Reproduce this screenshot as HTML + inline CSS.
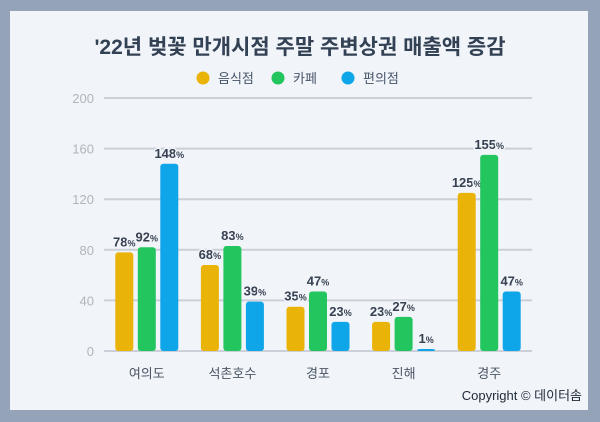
<!DOCTYPE html>
<html><head><meta charset="utf-8"><style>
body{margin:0;width:600px;height:422px;background:#94a3b8;overflow:hidden;font-family:"Liberation Sans","Noto Sans CJK KR",sans-serif}
#panel{position:absolute;left:10px;top:11px;width:578px;height:399px;background:#f1f4f9}
svg{position:absolute;left:0;top:0}
</style></head><body>
<div id="panel"></div>
<svg id="chart" width="600" height="422">
<text x="300" y="54" text-anchor="middle" font-size="21" font-weight="bold" fill="#334155">'22년 벚꽃 만개시점 주말 주변상권 매출액 증감</text>
<g id="legend"></g>
<g id="grid"></g><g id="bars"></g>
<text x="582" y="400" text-anchor="end" font-size="13" fill="#1f2937">Copyright © 데이터솜</text>
</svg>
<script>
const categories=["여의도","석촌호수","경포","진해","경주"];
const seriesNames=["음식점","카페","편의점"];
const food=[78,68,35,23,125];
const cafe=[82,83,47,27,155];
const conv=[148,39,23,1,47];
const cafeLabels=["92","83","47","27","155"];
const ticks=[0,40,80,120,160,200];
const colors=["#eab308","#22c55e","#0ea5e9"];
const ns="http://www.w3.org/2000/svg";
const x0=104,x1=532,y0=351,y1=98,yMax=200;
const y=v=>y0-(v/yMax)*(y0-y1);
const band=(x1-x0)/categories.length;
const xc=i=>x0+band*(i+0.5);
function mk(t,a,p){const e=document.createElementNS(ns,t);for(const k in a)e.setAttribute(k,a[k]);p.appendChild(e);return e;}
const grid=document.getElementById('grid'),bars=document.getElementById('bars'),leg=document.getElementById('legend');
ticks.forEach(t=>{
 const l=mk('line',{x1:x0,x2:x1,y1:y(t),y2:y(t),stroke:'#cbd0d8','stroke-width':2},grid);
 
 
 const tx=mk('text',{x:94,y:y(t)+5,'text-anchor':'end','font-size':13,fill:'#b0b5bd'},grid);
 tx.textContent=t;
 
 
});
const lx=[203,278,348];
seriesNames.forEach((n,i)=>{
 const c=mk('circle',{cx:lx[i],cy:78,r:6.5,fill:colors[i]},leg);
 
 
 const t=mk('text',{x:lx[i]+15,y:83,'font-size':13,fill:'#475569'},leg);
 t.textContent=n;
 
 
});
const series=[food,cafe,conv];
const bw=18,gap=4.5;
categories.forEach((c,i)=>{
 series.forEach((s,j)=>{
  const bx=xc(i)+(j-1)*(bw+gap)-bw/2;
  const h=Math.max(y0-y(s[i]),2);
  const r=mk('rect',{x:bx,y:y0-h,width:bw,height:h,rx:3,fill:colors[j]},bars);
  
  
  const lab=j===1?cafeLabels[i]:String(s[i]);
  const t=mk('text',{x:bx+bw/2,y:y0-h-6,'text-anchor':'middle','font-size':13,'font-weight':'bold',fill:'#374151',stroke:'#f1f4f9','stroke-width':3,'paint-order':'stroke'},bars);
  t.innerHTML=lab+'<tspan font-size="9">%</tspan>';
  
  
 });
 const t=mk('text',{x:xc(i),y:378,'text-anchor':'middle','font-size':13,fill:'#4b5563'},bars);
 t.textContent=c;
 
 
});
</script>
</body></html>
